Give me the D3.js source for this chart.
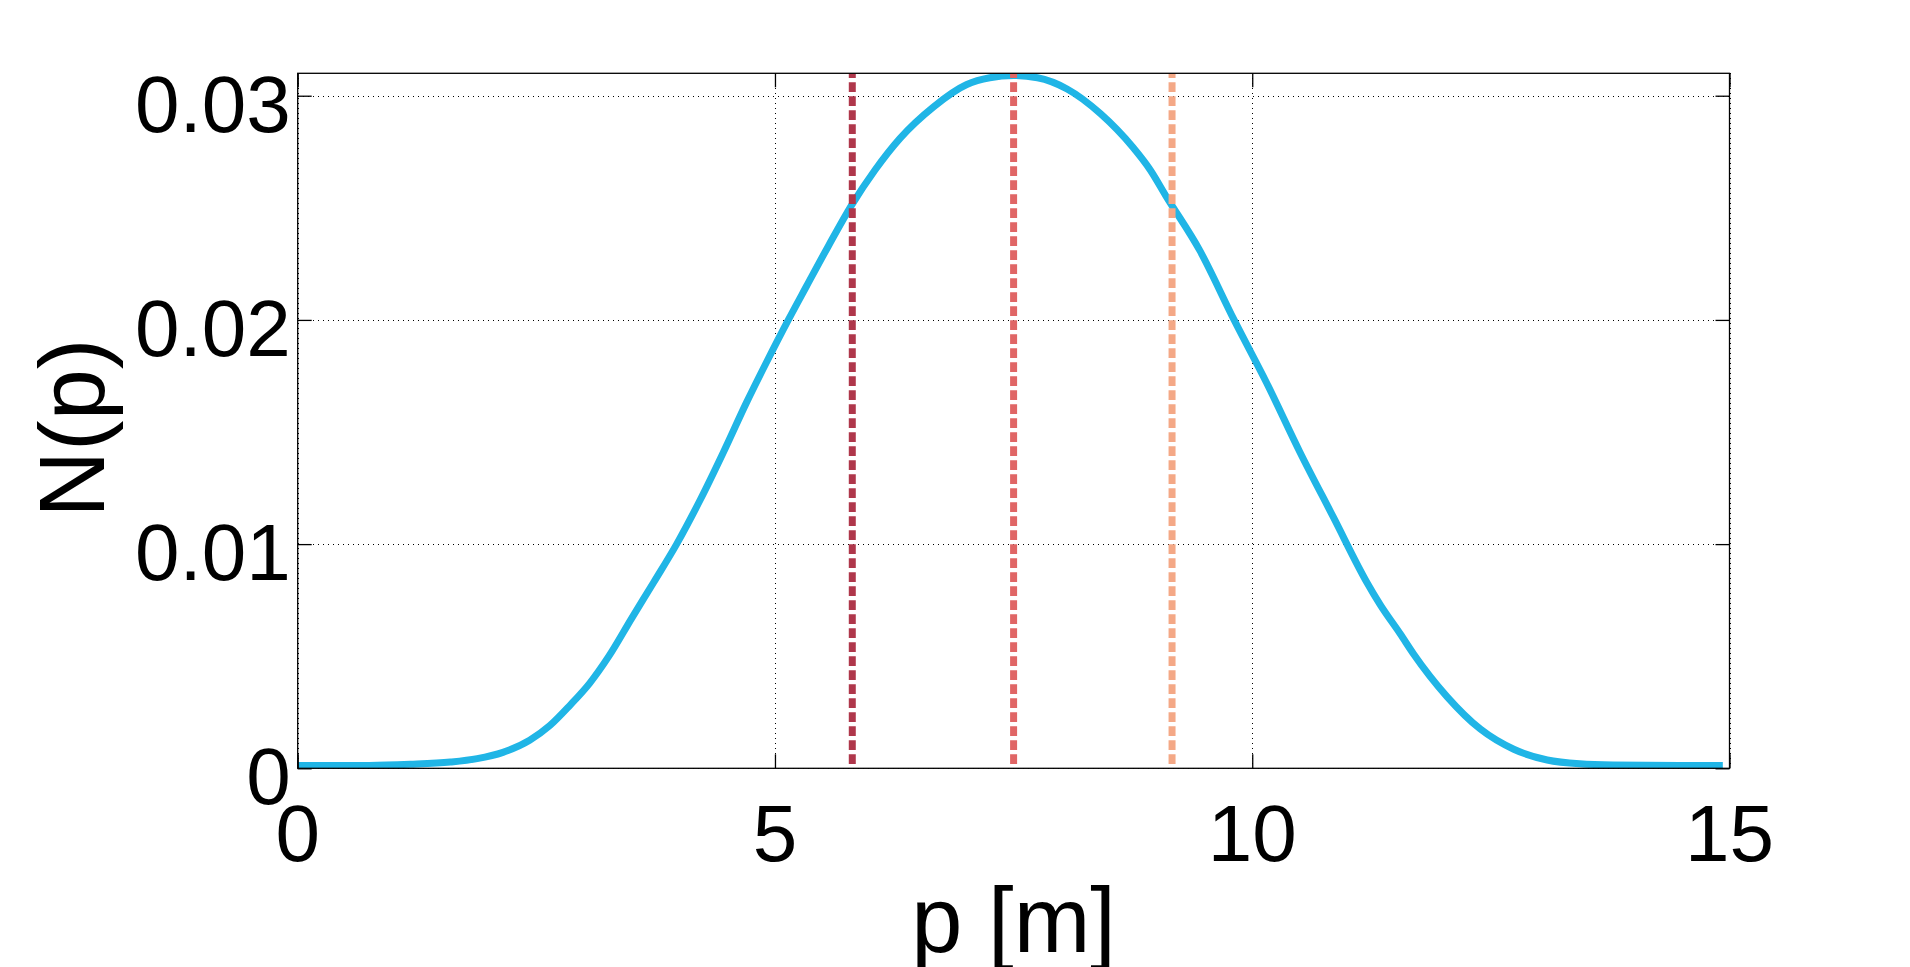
<!DOCTYPE html>
<html>
<head>
<meta charset="utf-8">
<script src="https://cdn.jsdelivr.net/npm/d3@7"></script>
<style>
  html, body { margin: 0; padding: 0; background: #ffffff; }
  svg { display: block; }
  text { font-family: "Liberation Sans", Arial, Helvetica, sans-serif; fill: #000; }
</style>
</head>
<body>
<svg id="chart" width="1910" height="967"></svg>
<script>
// ---- data ----
const pValues = [0, 0.75, 1.18, 1.60, 1.88, 2.15, 2.43, 2.64, 2.85, 3.06, 3.26, 3.50, 3.73, 3.97,
  4.22, 4.46, 4.70, 4.91, 5.14, 5.33, 5.56, 5.80, 6.05, 6.31, 6.66, 7.01, 7.25, 7.50, 7.75,
  8.06, 8.41, 8.75, 8.93, 9.10, 9.45, 9.81, 10.15, 10.50, 10.85, 11.20, 11.34, 11.55, 11.69,
  12.04, 12.39, 12.74, 13.09, 13.43, 13.78, 14.48, 14.93];
const nValues = [0.00013, 0.00013, 0.00018, 0.00028, 0.00043, 0.00071, 0.00125, 0.0019, 0.0028, 0.0038, 0.0050, 0.0067, 0.0083, 0.0100,
  0.0120, 0.0141, 0.0163, 0.0181, 0.0200, 0.0215, 0.0233, 0.0251, 0.0267, 0.0281, 0.0295, 0.0305, 0.0308, 0.0309, 0.0308,
  0.0303, 0.0292, 0.0277, 0.0267, 0.0255, 0.0231, 0.0200, 0.0172, 0.0141, 0.0112, 0.0083, 0.0073, 0.0060, 0.0051,
  0.0032, 0.00175, 0.00085, 0.00037, 0.0002, 0.00015, 0.00013, 0.00013];
const markerPositions = [5.81, 7.50, 9.16];
const markerColors = ["#AF374B", "#E06666", "#F4A886"];
const xTicks = [0, 5, 10, 15];
const xTickLabels = ["0", "5", "10", "15"];
const yTicks = [0, 0.01, 0.02, 0.03];
const yTickLabels = ["0", "0.01", "0.02", "0.03"];
const xDomain = [0, 15];
const yDomain = [0, 0.031];
const xLabel = "p [m]";
const yLabel = "N(p)";

// ---- layout ----
const plot = { left: 297.7, right: 1729.5, top: 73.3, bottom: 768.3 };
const svg = d3.select("#chart");
const x = d3.scaleLinear().domain(xDomain).range([plot.left, plot.right]);
const y = d3.scaleLinear().domain(yDomain).range([plot.bottom, plot.top]);
const px = v => Math.round(v) + 0.5;

svg.append("defs").append("clipPath").attr("id", "clip")
  .append("rect")
  .attr("x", plot.left).attr("y", plot.top)
  .attr("width", plot.right - plot.left).attr("height", plot.bottom - plot.top);

// grid
const grid = svg.append("g").attr("class", "grid").attr("shape-rendering", "crispEdges");
grid.selectAll("line.gx").data(xTicks).enter().append("line")
  .attr("x1", d => px(x(d))).attr("x2", d => px(x(d)))
  .attr("y1", plot.top).attr("y2", plot.bottom)
  .attr("stroke", "#000").attr("stroke-width", 1).attr("stroke-dasharray", "1,4");
grid.selectAll("line.gy").data(yTicks).enter().append("line")
  .attr("x1", plot.left).attr("x2", plot.right)
  .attr("y1", d => px(y(d))).attr("y2", d => px(y(d)))
  .attr("stroke", "#000").attr("stroke-width", 1).attr("stroke-dasharray", "1,4");

// curve
const pts = pValues.map((p, i) => [p, nValues[i]]);
const line = d3.line().x(d => x(d[0])).y(d => y(d[1])).curve(d3.curveMonotoneX);
svg.append("path").datum(pts)
  .attr("clip-path", "url(#clip)")
  .attr("d", line)
  .attr("fill", "none").attr("stroke", "#20B5E6").attr("stroke-width", 7)
  .attr("stroke-linejoin", "round");

// vertical dashed markers
svg.append("g").attr("clip-path", "url(#clip)")
  .selectAll("line").data(markerPositions).enter().append("line")
  .attr("x1", d => x(d)).attr("x2", d => x(d))
  .attr("y1", y(yDomain[0])).attr("y2", y(yDomain[1]))
  .attr("stroke", (d, i) => markerColors[i]).attr("stroke-width", 7)
  .attr("stroke-dasharray", "9.7,4.3").attr("stroke-dashoffset", 9.7);

// axes (ticks inside, mirrored)
const tickLen = 14;
const axB = d3.axisBottom(x).tickValues(xTicks).tickSize(-tickLen).tickFormat("");
const axT = d3.axisTop(x).tickValues(xTicks).tickSize(-tickLen).tickFormat("");
const axL = d3.axisLeft(y).tickValues(yTicks).tickSize(-tickLen).tickFormat("");
const axR = d3.axisRight(y).tickValues(yTicks).tickSize(-tickLen).tickFormat("");
function styleAxis(g) {
  g.select(".domain").remove();
  g.selectAll(".tick line").attr("stroke", "#000").attr("stroke-width", 1.3);
}
svg.append("g").attr("transform", `translate(0,${plot.bottom})`).call(axB).call(styleAxis);
svg.append("g").attr("transform", `translate(0,${plot.top})`).call(axT).call(styleAxis);
svg.append("g").attr("transform", `translate(${plot.left},0)`).call(axL).call(styleAxis);
svg.append("g").attr("transform", `translate(${plot.right},0)`).call(axR).call(styleAxis);

// frame
svg.append("rect")
  .attr("x", plot.left).attr("y", plot.top)
  .attr("width", plot.right - plot.left).attr("height", plot.bottom - plot.top)
  .attr("fill", "none").attr("stroke", "#000").attr("stroke-width", 1.3);

// tick labels
svg.append("g").selectAll("text").data(xTicks).enter().append("text")
  .attr("x", d => x(d)).attr("y", plot.bottom + 93)
  .attr("text-anchor", "middle").attr("font-size", 80)
  .text((d, i) => xTickLabels[i]);
svg.append("g").selectAll("text").data(yTicks).enter().append("text")
  .attr("x", plot.left - 7).attr("y", d => y(d) + 36)
  .attr("text-anchor", "end").attr("font-size", 80)
  .text((d, i) => yTickLabels[i]);

// axis labels
svg.append("text")
  .attr("x", (plot.left + plot.right) / 2).attr("y", 952)
  .attr("text-anchor", "middle").attr("font-size", 92)
  .text(xLabel);
svg.append("text")
  .attr("transform", "translate(104,428) rotate(-90)")
  .attr("text-anchor", "middle").attr("font-size", 92)
  .text(yLabel);
</script>
</body>
</html>
